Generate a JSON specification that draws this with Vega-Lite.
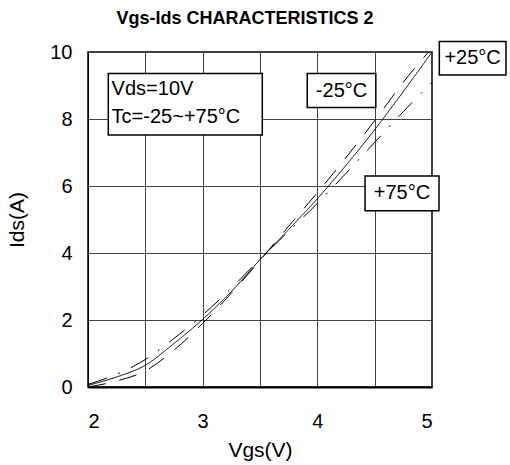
{
  "$schema": "https://vega.github.io/schema/vega-lite/v6.json",
  "width": 344,
  "height": 335,
  "autosize": {"type": "none"},
  "padding": {"left": 88, "top": 52, "right": 78, "bottom": 78},
  "background": "white",
  "title": {"text": "Vgs-Ids CHARACTERISTICS 2", "font": "Liberation Sans", "fontSize": 18, "fontWeight": "bold", "color": "black", "offset": 13, "dx": -15},
  "config": {
    "font": "Liberation Sans",
    "view": {"stroke": "black", "strokeWidth": 1.5},
    "axis": {
      "labelFont": "Liberation Sans", "titleFont": "Liberation Sans",
      "labelFontSize": 20, "titleFontSize": 21, "titleFontWeight": "normal",
      "labelColor": "black", "titleColor": "black",
      "ticks": false, "grid": true, "gridColor": "#444", "gridWidth": 1, "gridOpacity": 1,
      "domainColor": "black"
    }
  },
  "datasets": {
    "curves": [
      {"series": "+25°C", "vgs": 2.0, "ids": 0.05},
      {"series": "+25°C", "vgs": 2.25, "ids": 0.3},
      {"series": "+25°C", "vgs": 2.5, "ids": 0.65},
      {"series": "+25°C", "vgs": 2.75, "ids": 1.3},
      {"series": "+25°C", "vgs": 3.0, "ids": 2.02},
      {"series": "+25°C", "vgs": 3.25, "ids": 2.85},
      {"series": "+25°C", "vgs": 3.5, "ids": 3.8},
      {"series": "+25°C", "vgs": 3.75, "ids": 4.7},
      {"series": "+25°C", "vgs": 4.0, "ids": 5.62},
      {"series": "+25°C", "vgs": 4.25, "ids": 6.62},
      {"series": "+25°C", "vgs": 4.5, "ids": 7.68},
      {"series": "+25°C", "vgs": 4.75, "ids": 8.82},
      {"series": "+25°C", "vgs": 5.0, "ids": 10.0},
      {"series": "-25°C", "vgs": 2.0, "ids": 0.0},
      {"series": "-25°C", "vgs": 2.25, "ids": 0.18},
      {"series": "-25°C", "vgs": 2.5, "ids": 0.48},
      {"series": "-25°C", "vgs": 2.75, "ids": 1.1},
      {"series": "-25°C", "vgs": 3.0, "ids": 1.9},
      {"series": "-25°C", "vgs": 3.25, "ids": 2.8},
      {"series": "-25°C", "vgs": 3.5, "ids": 3.78},
      {"series": "-25°C", "vgs": 3.75, "ids": 4.8},
      {"series": "-25°C", "vgs": 4.0, "ids": 5.8},
      {"series": "-25°C", "vgs": 4.25, "ids": 6.85},
      {"series": "-25°C", "vgs": 4.5, "ids": 7.95},
      {"series": "-25°C", "vgs": 4.75, "ids": 9.1},
      {"series": "-25°C", "vgs": 4.97, "ids": 10.0},
      {"series": "+75°C", "vgs": 2.0, "ids": 0.08},
      {"series": "+75°C", "vgs": 2.25, "ids": 0.38},
      {"series": "+75°C", "vgs": 2.5, "ids": 0.82},
      {"series": "+75°C", "vgs": 2.75, "ids": 1.45},
      {"series": "+75°C", "vgs": 3.0, "ids": 2.15},
      {"series": "+75°C", "vgs": 3.25, "ids": 2.95},
      {"series": "+75°C", "vgs": 3.5, "ids": 3.82},
      {"series": "+75°C", "vgs": 3.75, "ids": 4.65},
      {"series": "+75°C", "vgs": 4.0, "ids": 5.48},
      {"series": "+75°C", "vgs": 4.25, "ids": 6.38},
      {"series": "+75°C", "vgs": 4.5, "ids": 7.3},
      {"series": "+75°C", "vgs": 4.75, "ids": 8.22},
      {"series": "+75°C", "vgs": 5.0, "ids": 9.1}
    ],
    "boxes": [
      {"x": 2.177, "x2": 3.52, "y": 9.36, "y2": 7.52},
      {"x": 3.912, "x2": 4.51, "y": 9.36, "y2": 8.34},
      {"x": 4.416, "x2": 5.061, "y": 6.3, "y2": 5.26},
      {"x": 5.064, "x2": 5.645, "y": 10.31, "y2": 9.31}
    ],
    "notes": [
      {"x": 2.206, "y": 8.89, "text": "Vds=10V"},
      {"x": 2.206, "y": 8.06, "text": "Tc=-25~+75°C"}
    ],
    "labels": [
      {"x": 4.211, "y": 8.85, "text": "-25°C"},
      {"x": 4.738, "y": 5.78, "text": "+75°C"},
      {"x": 5.354, "y": 9.81, "text": "+25°C"}
    ]
  },
  "layer": [
    {
      "data": {"name": "curves"},
      "mark": {"type": "line", "color": "black", "strokeWidth": 1, "interpolate": "monotone"},
      "encoding": {
        "x": {"field": "vgs", "type": "quantitative", "scale": {"domain": [2, 5], "nice": false, "zero": false},
          "axis": {"title": "Vgs(V)", "values": [2, 2.5, 3, 3.5, 4, 4.5, 5], "labelExpr": "datum.value % 1 === 0 ? format(datum.value, 'd') : ''", "labelPadding": 24, "titlePadding": 8, "domainWidth": 2}},
        "y": {"field": "ids", "type": "quantitative", "scale": {"domain": [0, 10], "nice": false},
          "axis": {"title": "Ids(A)", "values": [0, 1, 2, 3, 4, 5, 6, 7, 8, 9, 10], "labelExpr": "datum.value % 2 === 0 ? format(datum.value, 'd') : ''", "labelPadding": 16, "titlePadding": 22, "domainWidth": 1}},
        "strokeDash": {"field": "series", "type": "nominal",
          "scale": {"domain": ["+25°C", "-25°C", "+75°C"], "range": [[1, 0], [18, 14], [20, 12, 2, 12]]}, "legend": null}
      }
    },
    {
      "data": {"name": "boxes"},
      "mark": {"type": "rect", "fill": "white", "stroke": "black", "strokeWidth": 1.5},
      "encoding": {
        "x": {"field": "x", "type": "quantitative"},
        "x2": {"field": "x2"},
        "y": {"field": "y", "type": "quantitative"},
        "y2": {"field": "y2"}
      }
    },
    {
      "data": {"name": "notes"},
      "mark": {"type": "text", "font": "Liberation Sans", "fontSize": 20, "color": "black", "baseline": "middle", "align": "left"},
      "encoding": {
        "x": {"field": "x", "type": "quantitative"},
        "y": {"field": "y", "type": "quantitative"},
        "text": {"field": "text"}
      }
    },
    {
      "data": {"name": "labels"},
      "mark": {"type": "text", "font": "Liberation Sans", "fontSize": 20, "color": "black", "baseline": "middle", "align": "center"},
      "encoding": {
        "x": {"field": "x", "type": "quantitative"},
        "y": {"field": "y", "type": "quantitative"},
        "text": {"field": "text"}
      }
    }
  ]
}
